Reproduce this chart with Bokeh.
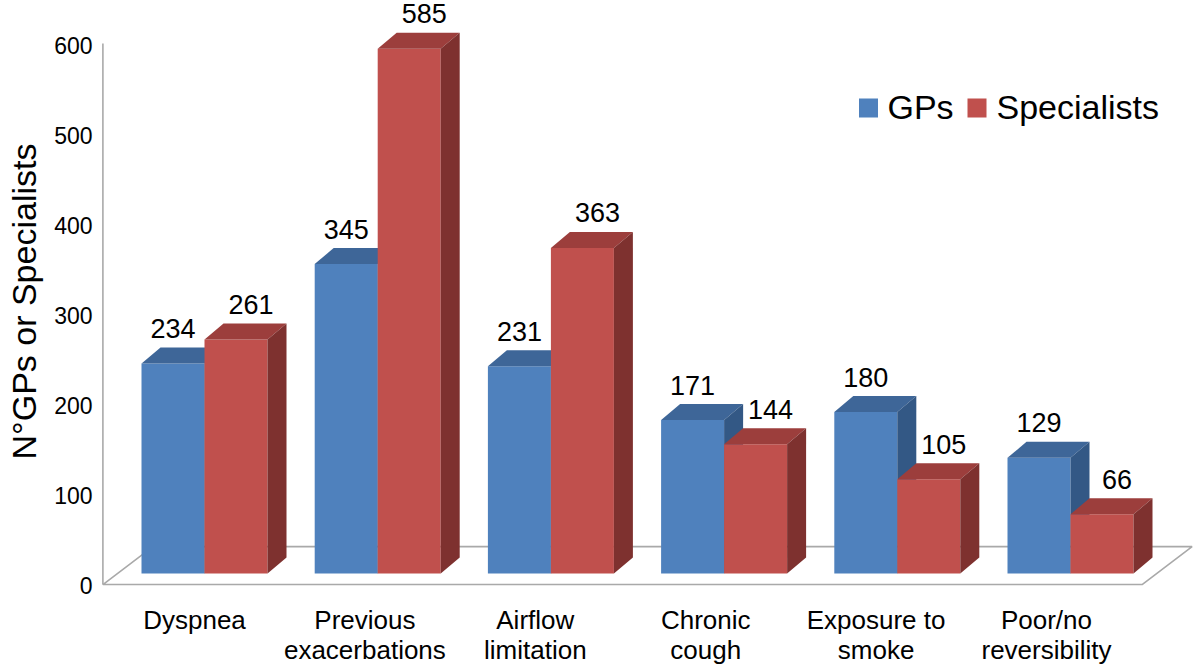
from bokeh.plotting import figure
from bokeh.models import Range1d, LinearAxis, FixedTicker, ColumnDataSource
from bokeh.embed import file_html
from bokeh.resources import INLINE
from bokeh.core.properties import value

# ---------------- data ----------------
categories = ["Dyspnea", "Previous\nexacerbations", "Airflow\nlimitation",
              "Chronic\ncough", "Exposure to\nsmoke", "Poor/no\nreversibility"]
gps = [234, 345, 231, 171, 180, 129]
specialists = [261, 585, 363, 144, 105, 66]
series_names = ["GPs", "Specialists"]
y_ticks = [0, 100, 200, 300, 400, 500, 600]
y_title = "N°GPs or Specialists"

# ---------------- layout (pixels) ----------------
W, H = 1200, 669
LEFT = 100                # frame left (canvas px)
FT = 0                    # frame top (canvas px)
FB = 602                  # frame bottom (canvas px)
PX_X = 173.2              # px per category (bars)
PX_Y = 0.897              # px per value unit (bars)
AX_PX_Y = 0.9             # px per value unit (axis labels)
GROUP0 = 204              # canvas x of first group centre
BASE = 573                # canvas y of bar base
AX0 = 585                 # canvas y of axis tick 0
LAB0, LAB_STEP = 194, 170.4   # category label centres
FONT = value("Liberation Sans")

x_start = (LEFT - GROUP0) / PX_X
x_end = x_start + (W - LEFT) / PX_X
y_end = (BASE - FT) / PX_Y
y_start = (BASE - FB) / PX_Y


def cx(canvas_x):
    return x_start + (canvas_x - LEFT) / PX_X


def cy(canvas_y):
    return (BASE - canvas_y) / PX_Y


BW = 63 / PX_X            # bar width
DX = 19 / PX_X            # depth offset x
DY = 16 / PX_Y            # depth offset y

COL = {
    "GPs": ("#4F81BD", "#3E6698", "#335885"),
    "Specialists": ("#C0504D", "#9C3E3C", "#7E312F"),
}

p = figure(width=W, height=H, output_backend="svg", toolbar_location=None,
           x_range=Range1d(x_start, x_end), y_range=Range1d(y_start, y_end),
           x_axis_location=None, y_axis_location=None,
           min_border_left=LEFT, min_border_right=0, min_border_top=FT,
           min_border_bottom=H - FB)
p.outline_line_color = None
p.background_fill_color = "white"
p.border_fill_color = "white"
p.grid.grid_line_color = None

p.extra_y_ranges = {"axis": Range1d((AX0 - FB) / AX_PX_Y, (AX0 - FT) / AX_PX_Y)}
cat_start = -(LAB0 - LEFT) / LAB_STEP
p.extra_x_ranges = {"cat": Range1d(cat_start, cat_start + (W - LEFT) / LAB_STEP)}

# y axis
yaxis = LinearAxis(y_range_name="axis", ticker=FixedTicker(ticks=y_ticks),
                   axis_label=y_title)
yaxis.axis_line_color = None
yaxis.major_tick_line_color = None
yaxis.minor_tick_line_color = None
yaxis.major_tick_out = 0
yaxis.major_tick_in = 0
yaxis.minor_tick_out = 0
yaxis.minor_tick_in = 0
yaxis.major_label_standoff = 8
yaxis.major_label_text_font_size = "23px"
yaxis.major_label_text_font = "Liberation Sans"
yaxis.major_label_text_color = "black"
yaxis.axis_label_text_font_size = "34px"
yaxis.axis_label_text_font = "Liberation Sans"
yaxis.axis_label_text_font_style = "normal"
yaxis.axis_label_text_color = "black"
yaxis.axis_label_standoff = 8
p.add_layout(yaxis, "left")

# category axis
n = len(categories)
xaxis = LinearAxis(x_range_name="cat", ticker=FixedTicker(ticks=list(range(n))),
                   major_label_overrides={i: c for i, c in enumerate(categories)})
xaxis.axis_line_color = None
xaxis.major_tick_line_color = None
xaxis.minor_tick_line_color = None
xaxis.major_tick_out = 0
xaxis.major_tick_in = 0
xaxis.minor_tick_out = 0
xaxis.minor_tick_in = 0
xaxis.major_label_standoff = 2
xaxis.major_label_text_font_size = "26px"
xaxis.major_label_text_font = "Liberation Sans"
xaxis.major_label_text_color = "black"
xaxis.major_label_text_line_height = 1.0
p.add_layout(xaxis, "below")

# floor
f_front_dx = -15 / PX_X
f_front_dy = -12.3
f_back_dx = 35 / PX_X
f_back_dy = 30.0
lo, hi = -0.5, n - 0.5
p.patch([lo + f_front_dx, hi + f_front_dx, hi + f_back_dx, lo + f_back_dx],
        [f_front_dy, f_front_dy, f_back_dy, f_back_dy],
        fill_color="white", line_color="#A9A9A9", line_width=1.6)
# vertical axis line
p.segment(x0=[lo + f_front_dx], y0=[f_front_dy], x1=[lo + f_front_dx], y1=[cy(43)],
          line_color="#A9A9A9", line_width=1.6)

# bars
for k, (name, vals) in enumerate(zip(series_names, [gps, specialists])):
    front, top, side = COL[name]
    lefts = [i - BW if k == 0 else i for i in range(n)]
    rights = [l + BW for l in lefts]
    src = ColumnDataSource(dict(left=lefts, right=rights, top=vals,
                                bottom=[0] * n))
    p.quad(left="left", right="right", top="top", bottom="bottom", source=src,
           fill_color=front, line_color=None)
    txs, tys, sxs, sys_ = [], [], [], []
    for l, r, v in zip(lefts, rights, vals):
        txs.append([l, l + DX, r + DX, r])
        tys.append([v, v + DY, v + DY, v])
        sxs.append([r, r + DX, r + DX, r])
        sys_.append([0, DY, v + DY, v])
    p.patches(txs, tys, fill_color=top, line_color=None)
    p.patches(sxs, sys_, fill_color=side, line_color=None)
    shift = 0 if k == 0 else 15 / PX_X
    p.text(x=[(l + r) / 2 + shift for l, r in zip(lefts, rights)],
           y=[v + 35 / PX_Y for v in vals], text=[str(v) for v in vals],
           text_font=FONT, text_font_size="27px", text_color="black",
           text_align="center", text_baseline="middle")

# legend
p.rect(x=[cx(868), cx(976.5)], y=[cy(107.5)] * 2, width=19, height=19,
       width_units="screen", height_units="screen",
       fill_color=[COL[s][0] for s in series_names], line_color=None)
p.text(x=[cx(887), cx(996)], y=[cy(106)] * 2, text=series_names, text_font=FONT,
       text_font_size="34px", text_color="black", text_align="left",
       text_baseline="middle")

open("out.html", "w").write(file_html(p, INLINE))
